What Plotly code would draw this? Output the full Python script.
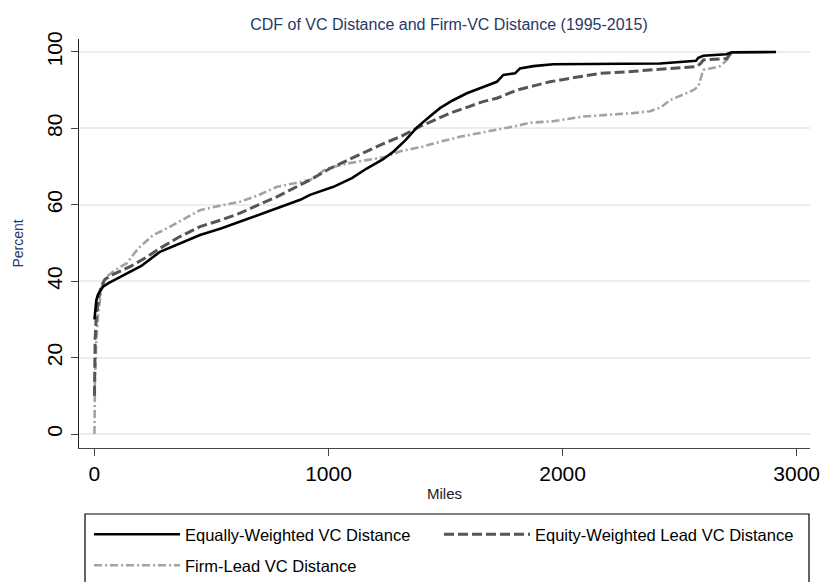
import plotly.graph_objects as go

# ---- data ----
eq_x = [0, 3, 8, 15, 30, 37, 60, 100, 138, 200, 280, 350, 451, 540, 622, 700, 779,
        879, 921, 1021, 1100, 1163, 1230, 1277, 1330, 1377, 1430, 1476, 1530, 1591, 1647,
        1700, 1719, 1747, 1797, 1818, 1875, 1961, 2160, 2417, 2570, 2580, 2601, 2700, 2723, 2912]
eq_y = [30, 33, 35, 36.5, 38, 38.6, 39.5, 40.8, 42, 44, 47.7, 49.5, 52.1, 53.8, 55.6, 57.3, 59.1,
        61.3, 62.6, 64.7, 67, 69.5, 71.8, 73.9, 77, 80.2, 83, 85.3, 87.3, 89.2, 90.5,
        91.6, 92.2, 94, 94.4, 95.7, 96.3, 96.8, 96.9, 97.0, 97.7, 98.5, 99, 99.4, 99.9, 100]

ew_x = [0, 3, 8, 15, 22, 30, 45, 80, 152, 220, 280, 360, 451, 540, 622, 700, 779, 850, 921,
        1006, 1080, 1163, 1230, 1306, 1391, 1450, 1519, 1600, 1660, 1719, 1804, 1880, 1946,
        2050, 2160, 2270, 2374, 2480, 2573, 2590, 2601, 2650, 2702, 2723]
ew_y = [10, 25, 31, 34, 37, 38.8, 40.5, 41.8, 43.8, 46.2, 48.6, 51.5, 54.3, 56, 57.8, 60, 62.1, 64.3, 66.5,
        69.5, 71.7, 74, 75.9, 77.8, 80.5, 82.2, 84, 85.7, 87, 87.9, 90, 91.2, 92.2,
        93.3, 94.4, 94.8, 95.3, 95.8, 96.2, 97, 97.9, 98.1, 98.3, 100]

fl_x = [0, 0, 2, 8, 16, 31, 52, 90, 138, 187, 251, 300, 351, 451, 540, 622, 700, 779, 850,
        921, 992, 1080, 1163, 1240, 1306, 1400, 1476, 1560, 1647, 1719, 1800, 1861, 1950, 2088,
        2200, 2300, 2374, 2420, 2459, 2510, 2558, 2580, 2588, 2601, 2640, 2673, 2702, 2723]
fl_y = [0, 10, 14, 24, 31.6, 38.6, 41.2, 43, 44.7, 48.6, 52.1, 53.5, 55.2, 58.6, 59.8, 60.8, 62.5, 64.7, 65.6,
        66.5, 69.5, 70.8, 71.7, 72.5, 74, 75.2, 76.5, 77.8, 78.8, 79.6, 80.6, 81.5, 81.8, 83.1,
        83.5, 84.0, 84.5, 85.5, 87.4, 88.8, 90, 91, 92.7, 95.3, 95.8, 96.3, 97.9, 100]

x_ticks = [0, 1000, 2000, 3000]
y_ticks = [0, 20, 40, 60, 80, 100]

FONT = "Liberation Sans, Arial, sans-serif"

fig = go.Figure()
fig.add_trace(go.Scatter(x=fl_x, y=fl_y, mode="lines", name="Firm-Lead VC Distance",
                         line=dict(color="#a3a3a3", width=2.6, dash="8px,3px,2px,3px"), legend="legend2"))
fig.add_trace(go.Scatter(x=ew_x, y=ew_y, mode="lines", name="Equity-Weighted Lead VC Distance",
                         line=dict(color="#555555", width=3, dash="10px,4px"), legend="legend3"))
fig.add_trace(go.Scatter(x=eq_x, y=eq_y, mode="lines", name="Equally-Weighted VC Distance",
                         line=dict(color="#000000", width=2.6), legend="legend"))

L, R, T, B = 79, 21, 39, 134
W, H = 831, 582
pw, ph = W - L - R, H - T - B

def px_x(p):
    return (p - L) / pw

def px_y(p):
    return (H - B - p) / ph

leg_common = dict(orientation="h", xanchor="left", yanchor="top", itemwidth=86,
                  font=dict(size=16.5, color="#000000", family=FONT),
                  bgcolor="rgba(0,0,0,0)", borderwidth=0, traceorder="normal")

fig.update_layout(
    width=W, height=H,
    margin=dict(l=L, r=R, t=T, b=B, pad=0, autoexpand=False),
    paper_bgcolor="white", plot_bgcolor="white",
    font=dict(family=FONT, color="#000000"),
    title=dict(text="CDF of VC Distance and Firm-VC Distance (1995-2015)",
               x=449 / W, xanchor="center", xref="container",
               y=1 - 24 / H, yanchor="middle", yref="container",
               font=dict(size=16, color="#2a3766", family=FONT)),
    xaxis=dict(range=[-66, 3057], tickvals=x_ticks, ticktext=[str(v) for v in x_ticks],
               showgrid=False, zeroline=False, showline=True, linecolor="#444444", linewidth=1.3,
               ticks="outside", ticklen=7, tickcolor="#444444", tickwidth=1.2, automargin=False,
               tickfont=dict(size=21, color="#000000", family=FONT),
               title=dict(text="Miles", font=dict(size=15, color="#1a1a1a", family=FONT), standoff=4)),
    yaxis=dict(range=[-3.66, 103.4], tickvals=y_ticks, ticktext=[str(v) for v in y_ticks],
               showgrid=True, gridcolor="#e8eff2", gridwidth=2, zeroline=False,
               showline=True, linecolor="#222222", linewidth=1.3, automargin=False,
               ticks="outside", ticklen=7, tickcolor="#444444", tickwidth=1.2,
               tickangle=-90, tickfont=dict(size=21, color="#000000", family=FONT),
               title=dict(text="Percent", font=dict(size=14, color="#1f3470", family=FONT), standoff=16)),
    legend=dict(x=px_x(89), y=px_y(517), **leg_common),
    legend3=dict(x=px_x(439), y=px_y(517), **leg_common),
    legend2=dict(x=px_x(89), y=px_y(548), **leg_common),
    shapes=[dict(type="rect", xref="paper", yref="paper",
                 x0=px_x(85), x1=px_x(809), y0=px_y(514), y1=px_y(600),
                 line=dict(color="#000000", width=1.2), fillcolor="rgba(0,0,0,0)", layer="above")],
    showlegend=True,
)

fig.write_html("out.html", config={"displayModeBar": False},
               post_script="document.body.style.margin='0px';document.body.style.overflow='hidden';")
